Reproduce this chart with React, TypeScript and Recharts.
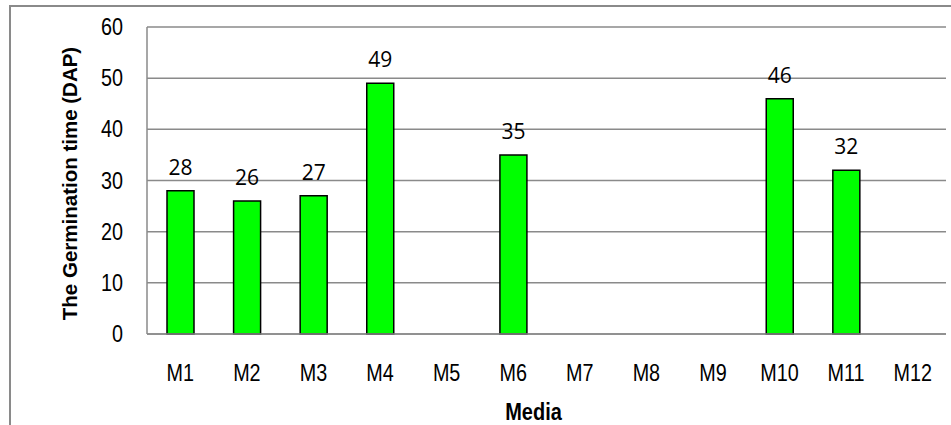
import { BarChart, Bar, XAxis, YAxis, CartesianGrid, LabelList, Label } from "recharts";

const media = ["M1", "M2", "M3", "M4", "M5", "M6", "M7", "M8", "M9", "M10", "M11", "M12"];
const germinationDays = [28, 26, 27, 49, null, 35, null, null, null, 46, 32, null];
const yTicks = [0, 10, 20, 30, 40, 50, 60];

const data = media.map((m, i) => ({ media: m, days: germinationDays[i] }));

const GRID = "#8a8a8a";

const XTick = (props: any) => {
  const { x, y, payload } = props;
  return (
    <text
      transform={`translate(${x},${y + 47}) scale(0.86,1)`}
      textAnchor="middle"
      fontFamily="'Liberation Sans', Arial, sans-serif"
      fontSize={23}
      fill="#000"
    >
      {payload.value}
    </text>
  );
};

const YTick = (props: any) => {
  const { x, y, payload } = props;
  return (
    <text
      transform={`translate(${x},${y + 8}) scale(0.86,1)`}
      textAnchor="end"
      fontFamily="'Liberation Sans', Arial, sans-serif"
      fontSize={23}
      fill="#000"
    >
      {payload.value}
    </text>
  );
};

const ValueLabel = (props: any) => {
  const { x, y, width, value } = props;
  if (value == null) return null;
  return (
    <text
      x={x + width / 2}
      y={y - 16}
      textAnchor="middle"
      fontFamily="'Open Sans', sans-serif"
      fontSize={21}
      fill="#000"
    >
      {value}
    </text>
  );
};

export default function App() {
  return (
    <div style={{ position: "absolute", left: 0, top: 0, width: 951, height: 425, background: "#fff", overflow: "hidden" }}>
      <div
        style={{
          position: "absolute",
          left: 9,
          top: 5,
          width: 960,
          height: 440,
          borderLeft: `2px solid ${GRID}`,
          borderTop: `2px solid ${GRID}`,
        }}
      />
      <BarChart
        width={951}
        height={425}
        data={data}
        margin={{ top: 27, right: 5, left: 87, bottom: 51 }}
        style={{ position: "absolute", left: 0, top: 0 }}
      >
        <CartesianGrid vertical={false} stroke={GRID} strokeWidth={1.5} />
        <XAxis
          dataKey="media"
          height={40}
          axisLine={{ stroke: GRID, strokeWidth: 1.5 }}
          tickLine={false}
          tickSize={0}
          tickMargin={0}
          interval={0}
          tick={<XTick />}
        >
          <Label
            content={(p: any) => {
              const vb = p.viewBox;
              return (
                <text
                  transform={`translate(${vb.x + vb.width / 2 - 13},${vb.y + 86}) scale(0.85,1)`}
                  textAnchor="middle"
                  fontFamily="'Liberation Sans', Arial, sans-serif"
                  fontWeight="bold"
                  fontSize={23.5}
                  fill="#000"
                >
                  Media
                </text>
              );
            }}
          />
        </XAxis>
        <YAxis
          width={60}
          domain={[0, 60]}
          ticks={yTicks}
          interval={0}
          axisLine={{ stroke: GRID, strokeWidth: 1.5 }}
          tickLine={false}
          tickSize={0}
          tickMargin={24}
          tick={<YTick />}
        >
          <Label
            content={(p: any) => {
              const vb = p.viewBox;
              return (
                <text
                  transform={`translate(77,${vb.y + vb.height / 2 + 3}) rotate(-90)`}
                  textAnchor="middle"
                  fontFamily="'Liberation Sans', Arial, sans-serif"
                  fontWeight="bold"
                  fontSize={20.5}
                  fill="#000"
                >
                  The Germination time (DAP)
                </text>
              );
            }}
          />
        </YAxis>
        <Bar dataKey="days" fill="#00ff00" stroke="#000" strokeWidth={1.5} barSize={27} isAnimationActive={false}>
          <LabelList dataKey="days" content={<ValueLabel />} />
        </Bar>
      </BarChart>
    </div>
  );
}
